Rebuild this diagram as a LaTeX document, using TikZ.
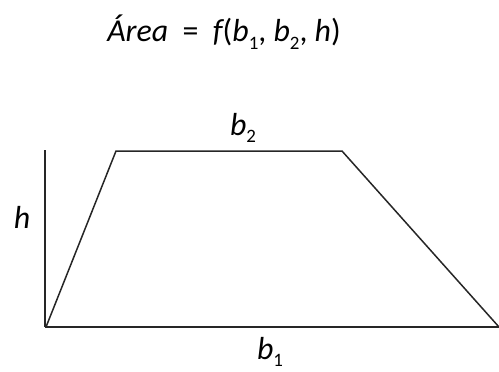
\documentclass[tikz,border=0pt]{standalone}
\usepackage{fontspec}
\setmainfont{Carlito}
\usetikzlibrary{positioning}
\newcommand{\lowsub}[1]{\raisebox{-0.5ex}{\upshape\fontsize{19}{19}\selectfont #1}}
\begin{document}
\begin{tikzpicture}[x=1bp,y=-1bp,
edge/.style={draw=black!85,line width=1.5bp},
lbl/.style={font=\fontsize{32}{32}\selectfont\itshape,inner sep=0pt}]
\useasboundingbox (0,0) rectangle (499,371);
\coordinate (bl) at (46,327);
\coordinate (tl) at (116,151);
\coordinate (tr) at (342,151);
\coordinate (br) at (499,327);
\coordinate (ht) at (45,150);
\coordinate (hb) at (45,327);
\node[lbl] (area) at (224,32) {Área\ \ \upshape=\itshape\ \ f\upshape(\itshape b\lowsub{1}\upshape,\ \itshape b\lowsub{2}\upshape,\ \itshape h\upshape)};
\node[lbl] (btop) at (243,128) {b\lowsub{2}};
\node[lbl] (hgt) at (22,217) {h};
\node[lbl] (bbot) at (270,352) {b\lowsub{1}};
\draw[edge] (bl)--(tl)--(tr)--(br);
\draw[edge] (hb)--(br);
\draw[edge] (ht)--(hb);
\end{tikzpicture}
\end{document}
